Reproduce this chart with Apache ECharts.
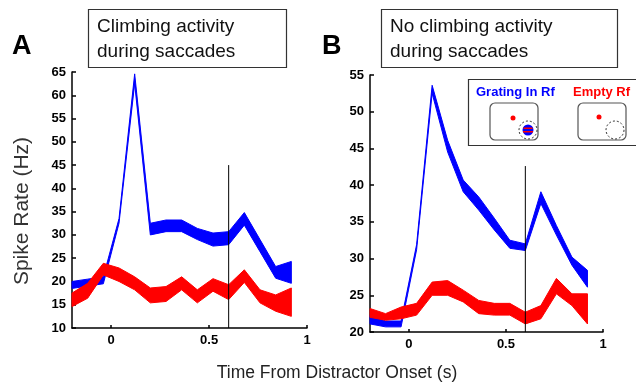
<!DOCTYPE html>
<html>
<head>
<meta charset="utf-8">
<script src="https://cdn.jsdelivr.net/npm/echarts@6/dist/echarts.min.js"></script>
<style>
html,body{margin:0;padding:0;background:#fff;}
#chart{width:636px;height:387px;}
</style>
</head>
<body>
<div id="chart"></div>
<script>
// ---- data ----
const timePoints = [-0.2,-0.12,-0.04,0.04,0.12,0.2,0.28,0.36,0.44,0.52,0.6,0.68,0.76,0.84,0.92];

const leftBlueLower  = [18.5,19,19.5,32.5,62.5,30,30.7,30.7,29,27.6,27.9,32.1,26.4,20.7,19.6];
const leftBlueUpper  = [20,20.5,21,33.5,64.6,32.5,33.2,33.2,31.4,30.4,30.7,34.8,29,23.2,24.3];
const leftRedLower   = [14.6,16.4,21.4,20,18.2,15.4,15.7,18.2,15.4,17.9,16.1,19.8,15.4,13.6,12.5];
const leftRedUpper   = [17.5,19.6,23.9,22.9,21,18.6,18.9,21,18.2,20.6,19.3,22.5,18.2,17.1,18.6];

const rightBlueLower = [21.1,20.7,20.7,31.2,52.5,44.5,39.1,36.6,33.9,31.4,31.1,37.5,33.2,29.1,26.1];
const rightBlueUpper = [22.3,21.5,21.5,31.9,53.6,46.1,40.7,38.4,35.5,32.5,32,39.1,34.5,30.2,28.4];
const rightRedLower  = [22,21.6,21.8,22.3,25,25,24.1,22.5,22.3,22.3,21.1,21.8,25.2,23.6,21.1];
const rightRedUpper  = [23.2,22.5,23.4,23.9,26.8,27,25.7,24.3,23.9,23.9,22.7,23.6,27.3,25.2,25.2];

// saccade marker: [time, from, to]
const leftEventLine  = [0.6, 10, 45];
const rightEventLine = [0.6, 20, 42.6];

const xTickValues = [0, 0.5, 1];
const leftYRange  = [10, 65];
const rightYRange = [20, 55];

const xAxisTitle = 'Time From Distractor Onset (s)';
const yAxisTitle = 'Spike Rate (Hz)';
const panelTitles = [['Climbing activity','during saccades'],['No climbing activity','during saccades']];
const legendNames = ['Grating In Rf','Empty Rf'];

// ---- build ----
const BLUE = '#0000ff', RED = '#ff0000';

function band(idx, lower, upper, color){
  return {
    type:'custom', xAxisIndex:idx, yAxisIndex:idx, silent:true,
    data: timePoints.map((t,i)=>[t, lower[i], upper[i]]),
    encode:{x:0, y:[1,2]},
    renderItem:function(params, api){
      if (params.dataIndexInside !== 0) return null;
      const n = params.dataInsideLength;
      const top = [], bot = [];
      for (let i=0;i<n;i++){
        const t = api.value(0, i);
        bot.push(api.coord([t, api.value(1, i)]));
        top.push(api.coord([t, api.value(2, i)]));
      }
      const pts = top.concat(bot.reverse());
      return {type:'polygon', shape:{points:pts},
        style:{fill:color, stroke:color, lineWidth:1}};
    }
  };
}
function eventSeries(idx, ev){
  return {type:'line', xAxisIndex:idx, yAxisIndex:idx, data:[[ev[0],ev[1]],[ev[0],ev[2]]],
    symbol:'none', silent:true, lineStyle:{color:'#000', width:1}, z:3};
}

function xAxisCfg(gi){
  return {type:'value', gridIndex:gi, min:-0.2, max:1,
    axisLine:{onZero:false, lineStyle:{color:'#000', width:1.5}},
    axisTick:{show:true, inside:true, length:3, customValues:xTickValues, lineStyle:{color:'#000', width:1.5}},
    axisLabel:{customValues:xTickValues, margin:6, color:'#000', fontFamily:'Liberation Sans, Arial', fontWeight:'bold', fontSize:13,
      formatter:v=>String(v)},
    splitLine:{show:false}};
}
function yAxisCfg(gi, range){
  return {type:'value', gridIndex:gi, min:range[0], max:range[1], interval:5,
    axisLine:{show:true, onZero:false, lineStyle:{color:'#000', width:1.5}},
    axisTick:{show:true, inside:true, length:4, lineStyle:{color:'#000', width:1.5}},
    axisLabel:{margin:6, color:'#000', fontFamily:'Liberation Sans, Arial', fontWeight:'bold', fontSize:13},
    splitLine:{show:false}};
}

const FONT = 'Liberation Sans, Arial, sans-serif';
const graphics = [
  {type:'text', left:12, top:33, style:{text:'A', font:'bold 27px '+FONT, fill:'#000'}},
  {type:'text', left:322, top:33, style:{text:'B', font:'bold 27px '+FONT, fill:'#000'}},
  {type:'rect', shape:{x:88.5, y:9.5, width:198, height:58}, style:{fill:'#fff', stroke:'#333', lineWidth:1.2}},
  {type:'text', x:97, y:14, style:{text:panelTitles[0].join('\n'), font:'19px '+FONT, lineHeight:25, fill:'#111'}},
  {type:'rect', shape:{x:381.5, y:9.5, width:236, height:58}, style:{fill:'#fff', stroke:'#333', lineWidth:1.2}},
  {type:'text', x:390, y:14, style:{text:panelTitles[1].join('\n'), font:'19px '+FONT, lineHeight:25, fill:'#111'}},
  {type:'text', x:22, y:211, rotation:Math.PI/2,
   style:{text:yAxisTitle, font:'21px '+FONT, fill:'#333', textAlign:'center', textVerticalAlign:'middle'}},
  {type:'text', x:337, y:373,
   style:{text:xAxisTitle, font:'17.5px '+FONT, fill:'#222', textAlign:'center', textVerticalAlign:'middle'}},
  {type:'rect', shape:{x:468.5, y:79.5, width:180, height:66}, style:{fill:'#fff', stroke:'#333', lineWidth:1.2}, z:10},
  {type:'text', x:476, y:92, z:11, style:{text:legendNames[0], font:'bold 13px '+FONT, fill:BLUE, textVerticalAlign:'middle'}},
  {type:'text', x:573, y:92, z:11, style:{text:legendNames[1], font:'bold 13px '+FONT, fill:RED, textVerticalAlign:'middle'}},
  {type:'rect', shape:{x:490, y:103, width:48, height:37, r:5}, style:{fill:'#fff', stroke:'#555', lineWidth:1.2}, z:11},
  {type:'circle', shape:{cx:513, cy:118, r:2.5}, style:{fill:RED}, z:12},
  {type:'circle', shape:{cx:528, cy:130, r:9}, style:{fill:'none', stroke:'#333', lineWidth:1, lineDash:[2,2]}, z:12},
  {type:'circle', shape:{cx:528, cy:130, r:5.5}, style:{fill:BLUE}, z:12},
  {type:'rect', shape:{x:523.5, y:127.5, width:9, height:1.5}, style:{fill:RED}, z:13},
  {type:'rect', shape:{x:523, y:131, width:10, height:1.5}, style:{fill:RED}, z:13},
  {type:'rect', shape:{x:578, y:103, width:48, height:37, r:5}, style:{fill:'#fff', stroke:'#555', lineWidth:1.2}, z:11},
  {type:'circle', shape:{cx:599, cy:117, r:2.5}, style:{fill:RED}, z:12},
  {type:'circle', shape:{cx:615, cy:130, r:9}, style:{fill:'none', stroke:'#333', lineWidth:1, lineDash:[2,2]}, z:12}
];

const chart = echarts.init(document.getElementById('chart'), null, {renderer:'canvas'});
chart.setOption({
  animation:false,
  backgroundColor:'#fff',
  grid:[
    {left:72, top:72, width:235, height:256},
    {left:370, top:75, width:233, height:257}
  ],
  xAxis:[xAxisCfg(0), xAxisCfg(1)],
  yAxis:[yAxisCfg(0, leftYRange), yAxisCfg(1, rightYRange)],
  series:[
    band(0, leftBlueLower, leftBlueUpper, BLUE),
    band(0, leftRedLower, leftRedUpper, RED),
    eventSeries(0, leftEventLine),
    band(1, rightBlueLower, rightBlueUpper, BLUE),
    band(1, rightRedLower, rightRedUpper, RED),
    eventSeries(1, rightEventLine)
  ],
  graphic:graphics
});
</script>
</body>
</html>
